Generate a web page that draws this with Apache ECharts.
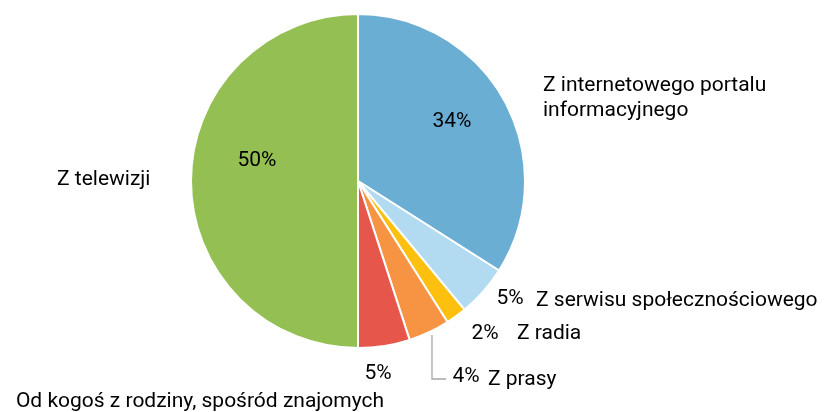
<!DOCTYPE html>
<html><head><meta charset="utf-8">
<script src="https://cdn.jsdelivr.net/npm/echarts@6/dist/echarts.min.js"></script>
<style>html,body{margin:0;padding:0;background:#fff}#c{width:824px;height:412px}</style>
</head><body><div id="c"></div>
<script>
var categories = ['Z internetowego portalu\ninformacyjnego', 'Z serwisu społecznościowego', 'Z radia', 'Z prasy', 'Od kogoś z rodziny, spośród znajomych', 'Z telewizji'];
var values = [34, 5, 2, 4, 5, 50];
var colors = ['#6aaed3', '#b2daf1', '#fec00f', '#f69444', '#e6564a', '#94bf53'];

// label anchor positions (text placement only)
var pctPos = [[452,122,'center'],[510,299,'center'],[485,334,'center'],[466,377,'center'],[378,374,'center'],[257,161,'center']];
var namePos = [[543,98,'left'],[536,301,'left'],[517,334,'left'],[488,380,'left'],[200,402,'center'],[57,180,'left']];

var font = 'Roboto';
var fs = 21;
var chart = echarts.init(document.getElementById('c'), null, {renderer:'canvas'});
function mkData(withLine){
  return values.map(function(v,i){
    var d = {name: categories[i], value: v, itemStyle:{color: colors[i]}};
    if (withLine) d.labelLine = {show: i === 3};
    return d;
  });
}
chart.setOption({
  animation: false,
  series: [{
    type: 'pie', center: [358,181], radius: 167, startAngle: 90, clockwise: true,
    avoidLabelOverlap: false,
    itemStyle: {borderColor: '#fff', borderWidth: 2},
    label: {show: true, formatter: '{c}%', color: '#000', fontFamily: font, fontSize: fs},
    labelLine: {show: false, lineStyle: {color: '#a6a6a6', width: 1.3}},
    labelLayout: function(p){
      var q = pctPos[p.dataIndex];
      var o = {x: q[0], y: q[1], align: q[2], verticalAlign: 'middle'};
      if (p.dataIndex === 3) o.labelLinePoints = [[432,335],[432,379],[446,379]];
      return o;
    },
    data: mkData(true)
  },{
    type: 'pie', center: [358,181], radius: 167, startAngle: 90, clockwise: true,
    avoidLabelOverlap: false, silent: true, z: 3,
    itemStyle: {color: 'rgba(255,255,255,0)', borderWidth: 0},
    label: {show: true, formatter: '{b}', color: '#000', fontFamily: font, fontSize: fs, lineHeight: 25},
    labelLine: {show: false},
    labelLayout: function(p){
      var q = namePos[p.dataIndex];
      return {x: q[0], y: q[1], align: q[2], verticalAlign: 'middle'};
    },
    data: values.map(function(v,i){ return {name: categories[i], value: v}; })
  }]
});
</script></body></html>
